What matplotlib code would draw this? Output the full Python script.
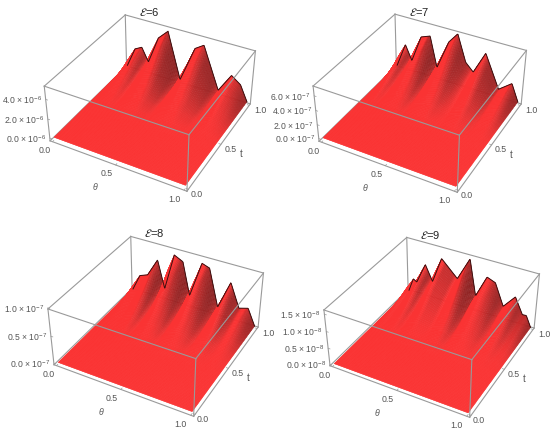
import numpy as np
import matplotlib
matplotlib.use("Agg")
import matplotlib.pyplot as plt
from mpl_toolkits.mplot3d import proj3d

plt.rcParams['font.family'] = ['Liberation Sans', 'DejaVu Sans']
plt.rcParams['mathtext.fontset'] = 'custom'
plt.rcParams['mathtext.rm'] = 'Liberation Sans'
plt.rcParams['mathtext.it'] = 'Liberation Sans:italic'
plt.rcParams['mathtext.default'] = 'regular'

titles = ["6", "7", "8", "9"]

# ridge profile along theta at t = 1, in units of 10^exponent
theta_6 = [0, .07, .13, .186, .27, .35, .457, .57, .64, .77, .866, .94, 1]
peak_6 = [0, 2.1, 2.5, 1.1, 4.0, 5.0, .2, 4.0, 4.6, .3, 2.3, 1.6, 0]
theta_7 = [0, .076, .13, .21, .285, .344, .437, .507, .577, .64, .73, .845, .944, 1]
peak_7 = [0, 3.5, 1.4, 5.3, 5.8, 1.5, 5.7, 7.2, 3.5, 2.4, 5.6, 1.0, 2.4, 0]
theta_8 = [0, .063, .13, .214, .274, .35, .42, .48, .57, .63, .707, .797, .87, .94, 1]
peak_8 = [0, .31, .37, .71, .2, .89, .81, .21, .88, .83, .15, .68, .25, .30, 0]
theta_9 = [0, .04, .07, .145, .205, .28, .41, .507, .56, .644, .71, .78, .868, .93, .96, 1]
peak_9 = [0, .42, .35, .99, .52, 1.32, .84, 1.55, .47, 1.15, 1.05, .40, .80, .32, .33, 0]

# how the ridges fade towards small t
t_knots = [0, .4, .5, .6, .7, .8, .9, 1]
fade = [0, 0, .03, .12, .3, .55, .82, 1]

z_ticks = [[0, 2, 4], [0, 2, 4, 6], [0, .5, 1], [0, .5, 1, 1.5]]
exponents = [-6, -7, -7, -8]
z_ranges = [(-.3, 5.3), (-.4, 7.3), (-.03, .98), (-.04, 1.62)]
ticks = [0, .5, 1]

profiles = [(theta_6, peak_6), (theta_7, peak_7), (theta_8, peak_8), (theta_9, peak_9)]

W, H = 550, 431
centers = [(149, 101), (419, 101), (155, 324), (431, 325)]
zooms = [1.0, 1.01, 1.02, 1.02]
title_xy = [(149, 12), (419, 12), (154, 233), (430, 235)]
SIZE = 330
GREY = '#9a9a9a'
TXT = '#555555'
TS = 6.3
ZS = 6.2

fig = plt.figure(figsize=(W / 100, H / 100), dpi=100, facecolor='white')

th = np.linspace(0, 1, 241)
tt = np.linspace(0, 1, 81)
TH, TT = np.meshgrid(th, tt)


def smooth(a, n):
    k = np.ones(n) / n
    p = np.pad(a, ((0, 0), (n // 2, n // 2)), mode='edge')
    return np.array([np.convolve(r, k, mode='valid') for r in p])


for i, (pth, pz) in enumerate(profiles):
    cx, cy = centers[i]
    ax = fig.add_axes([(cx - SIZE / 2) / W, 1 - (cy + SIZE / 2) / H, SIZE / W, SIZE / H],
                      projection='3d', computed_zorder=False)
    ax.set_axis_off()
    ax.patch.set_alpha(0)
    ax.view_init(elev=36.2, azim=-61.6)
    ax.set_proj_type('persp', focal_length=0.414)
    ax.set_box_aspect((1, 1, .44), zoom=zooms[i] * .66)
    zb, zt = z_ranges[i]
    x0, x1, y0, y1 = -.02, 1.02, -.02, 1.02
    ax.set_xlim(x0, x1, view_margin=0)
    ax.set_ylim(y0, y1, view_margin=0)
    ax.set_zlim(zb, zt, view_margin=0)

    prof = np.interp(th, pth, pz)
    env = np.interp(tt, t_knots, fade)
    Z = np.outer(env, prof)
    gx = np.gradient(Z, th, axis=1) * .4 / (zt - zb)
    gy = np.gradient(Z, tt, axis=0) * .4 / (zt - zb)
    gx = smooth(gx, 15)
    norm = np.sqrt(gx ** 2 + gy ** 2 + 1)
    l = np.array([-.6, -.2, .77])
    dot = (-gx * l[0] - gy * l[1] + l[2]) / norm
    fac = np.clip(.42 + .58 * (dot + .4) / 1.17, .42, 1)
    cols = np.zeros(Z.shape + (4,))
    cols[..., 0] = .2 + .78 * fac
    cols[..., 1] = .07 + .13 * fac
    cols[..., 2] = .07 + .13 * fac
    cols[..., 3] = 1

    def edge(a, b, z_order, lw=.8):
        ax.plot3D(*zip(a, b), color=GREY, lw=lw, zorder=z_order)

    def label(x, y, z, s, dx, dy, ha='center', size=TS):
        X, Y, _ = proj3d.proj_transform(x, y, z, ax.get_proj())
        ax.annotate(s, xy=(X, Y), xycoords='data', xytext=(dx, dy), textcoords='offset pixels',
                    color=TXT, fontsize=size, ha=ha, va='center', zorder=5, annotation_clip=False)

    c = lambda x, y, z: (x, y, z)
    # edges behind the surface
    edge(c(x0, y0, zt), c(x0, y1, zt), 1)
    edge(c(x0, y1, zt), c(x1, y1, zt), 1)
    edge(c(x0, y1, zb), c(x0, y1, zt), 1)
    edge(c(x1, y1, zb), c(x1, y1, zt), 1)
    edge(c(x0, y0, zb), c(x0, y1, zb), 1)
    edge(c(x0, y1, zb), c(x1, y1, zb), 1)

    ax.plot_surface(TH, TT, Z, facecolors=cols, rstride=1, cstride=1, shade=False,
                    linewidth=.25, antialiased=True, zorder=2)
    ax.plot3D(th, np.ones_like(th), prof, color='#3a1010', lw=.7, zorder=3)

    # edges in front of the surface
    edge(c(x0, y0, zb), c(x1, y0, zb), 4)
    edge(c(x1, y0, zb), c(x1, y1, zb), 4)
    edge(c(x0, y0, zt), c(x1, y0, zt), 4)
    edge(c(x1, y0, zt), c(x1, y1, zt), 4)
    edge(c(x0, y0, zb), c(x0, y0, zt), 4)
    edge(c(x1, y0, zb), c(x1, y0, zt), 4)

    for v in ticks:
        edge(c(v, y0, zb), c(v, y0 + .015, zb), 4, lw=.5)
        edge(c(x1, v, zb), c(x1 - .015, v, zb), 4, lw=.5)
        label(v, y0, zb, f"{v:.1f}", -8 - 2 * v, -8)
        label(x1, v, zb, f"{v:.1f}", 8 + 3 * v, -4)
    label(.5, y0, zb, r"$\mathit{\theta}$", -20, -21)
    label(x1, .5, zb, "t", 20, -9, size=TS + .6)
    for v in z_ticks[i]:
        edge(c(x0, y0, v), c(x0 + .015, y0, v), 4, lw=.5)
        label(x0, y0, v, f"{v:.1f} × 10$^{{{exponents[i]}}}$", -4, 0, ha='right', size=ZS)
    fig.text(title_xy[i][0] / W, 1 - title_xy[i][1] / H, r"$\mathcal{E}$=" + titles[i],
             fontsize=8, color='#222222', ha='center', va='center', math_fontfamily='stix')

fig.savefig("out.png", dpi=100)
